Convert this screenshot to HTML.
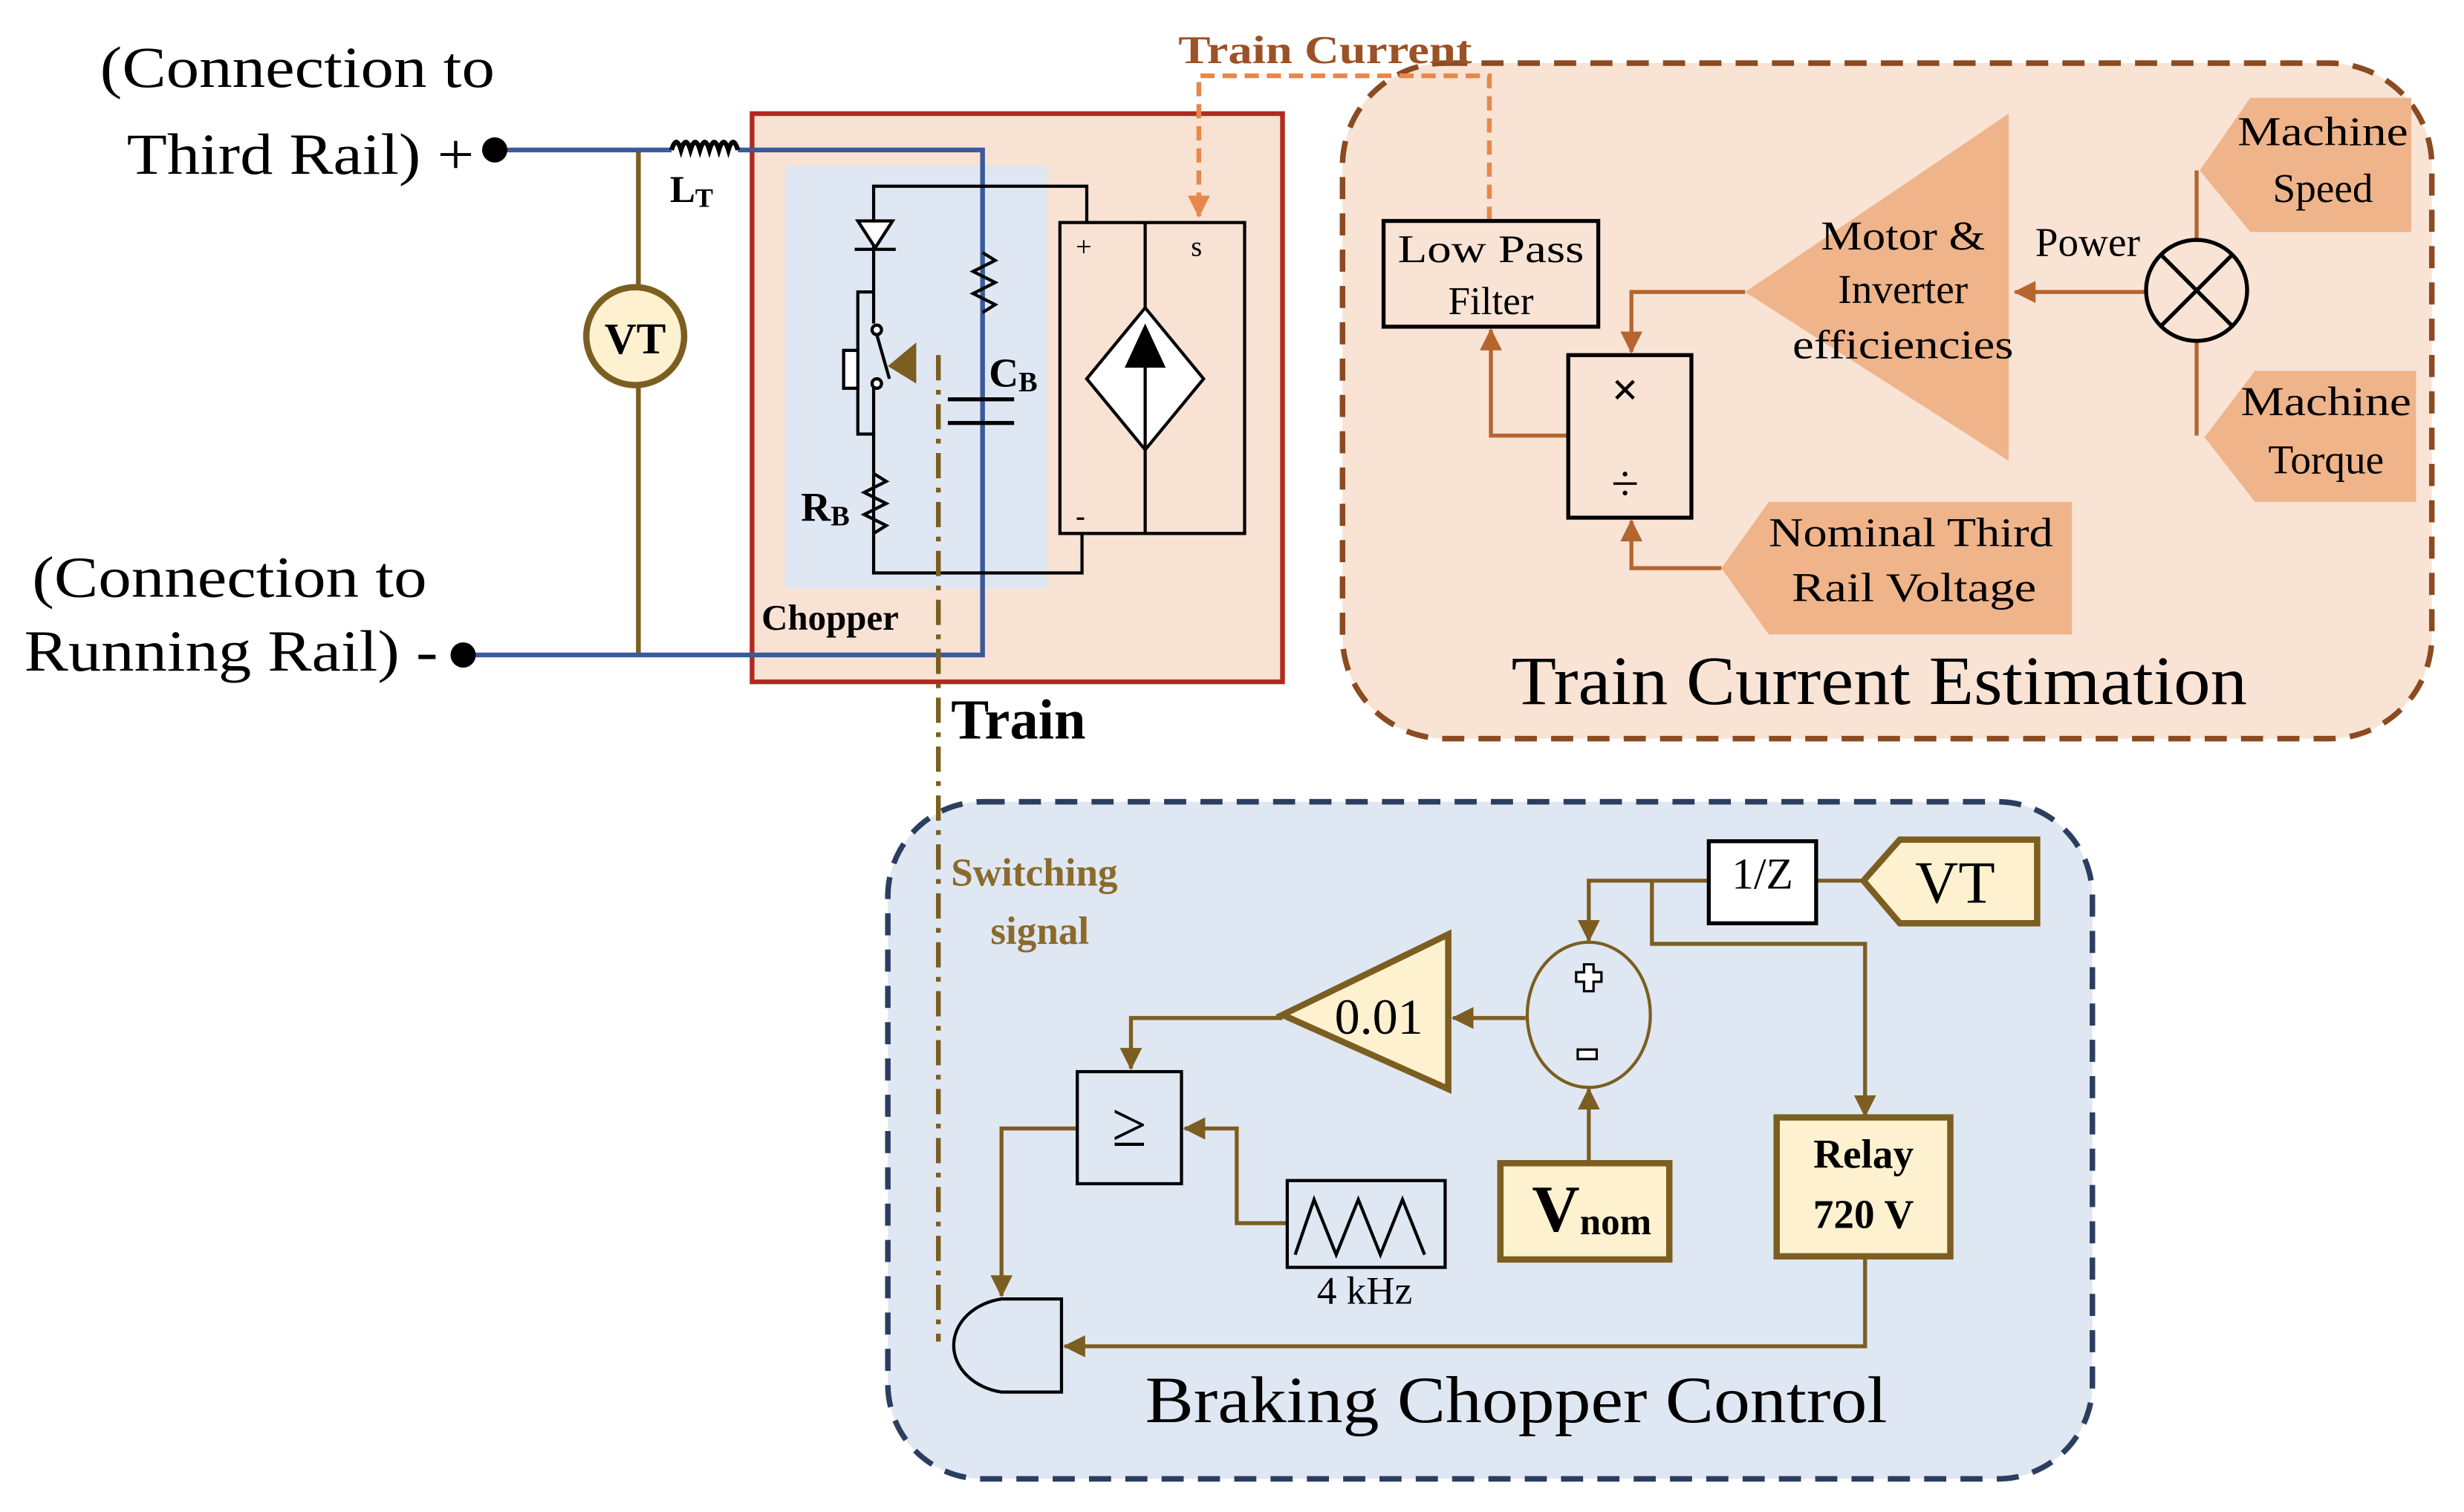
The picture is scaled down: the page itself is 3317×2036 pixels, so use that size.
<!DOCTYPE html>
<html><head><meta charset="utf-8"><style>
html,body{margin:0;padding:0;background:#fff;}
svg{display:block;}
text{font-family:"Liberation Serif",serif;}
</style></head><body>
<svg width="3317" height="2036" viewBox="0 0 1560 958" xmlns="http://www.w3.org/2000/svg">
<defs>
<marker id="at" markerWidth="14" markerHeight="14" refX="13" refY="7" orient="auto" markerUnits="userSpaceOnUse"><path d="M0,0 L14,7 L0,14 Z" fill="#7b5e20"/></marker>
<marker id="ao" markerWidth="14" markerHeight="14" refX="13" refY="7" orient="auto" markerUnits="userSpaceOnUse"><path d="M0,0 L14,7 L0,14 Z" fill="#e8874a"/></marker>
<marker id="abr" markerWidth="14" markerHeight="14" refX="13" refY="7" orient="auto" markerUnits="userSpaceOnUse"><path d="M0,0 L14,7 L0,14 Z" fill="#b5652e"/></marker>
</defs>

<rect x="850" y="40" width="690" height="428" rx="65" fill="#f8e3d5" stroke="#8b4a20" stroke-width="3.5" stroke-dasharray="14,9"/>
<rect x="562" y="508" width="763" height="429" rx="60" fill="#dfe7f3" stroke="#2c3e60" stroke-width="3.5" stroke-dasharray="14,9"/>

<rect x="476" y="72" width="336" height="360" fill="#f8e2d4" stroke="#b02a20" stroke-width="3"/>
<rect x="497" y="105" width="166" height="268" fill="#dfe7f3"/>

<line x1="404" y1="95" x2="404" y2="415" stroke="#7b5e20" stroke-width="3"/>
<circle cx="402" cy="213" r="31" fill="#fdf1cf" stroke="#7b5e20" stroke-width="4"/>
<text x="402" y="224" font-size="28" font-weight="bold" text-anchor="middle">VT</text>

<polyline points="313,95 425,95" fill="none" stroke="#3a5a9a" stroke-width="3"/>
<polyline points="467,95 622,95 622,415 293,415" fill="none" stroke="#3a5a9a" stroke-width="3"/>
<path d="M425,95 q3,-10 6,0 q3,-10 6,0 q3,-10 6,0 q3,-10 6,0 q3,-10 6,0 q3,-10 6,0 q3,-10 6,0" fill="none" stroke="#000" stroke-width="3"/>
<circle cx="313" cy="95" r="8" fill="#000"/>
<circle cx="293" cy="415" r="8" fill="#000"/>
<text x="424" y="128" font-size="24" font-weight="bold">L<tspan font-size="17" dy="3">T</tspan></text>

<g stroke="#000" stroke-width="2" fill="none">
<polyline points="553,185 553,118 688,118 688,141"/>
<polyline points="553,300 553,363 685,363 685,338"/>
<polyline points="553,185 543,185 543,275 553,275 553,300"/>
<line x1="553" y1="185" x2="553" y2="205"/>
<line x1="553" y1="245" x2="553" y2="275"/>
<circle cx="555" cy="209" r="3" fill="#fff"/>
<circle cx="555" cy="243" r="3" fill="#fff"/>
<line x1="555" y1="212" x2="563" y2="240"/>
<rect x="534" y="222" width="9" height="24" fill="#fff"/>
<path d="M553,300 l8,5 l-14,7 l14,7 l-14,7 l14,7 l-8,5"/>
<path d="M622,160 l8,5 l-14,7 l14,7 l-14,7 l14,7 l-8,5"/>
<line x1="600" y1="253" x2="642" y2="253" stroke-width="2.5"/>
<line x1="600" y1="268" x2="642" y2="268" stroke-width="2.5"/>
<rect x="671" y="141" width="117" height="197"/>
<line x1="725" y1="141" x2="725" y2="338"/>
<polygon points="725,195 762,240 725,285 688,240" fill="#fff"/>
<line x1="725" y1="225" x2="725" y2="285"/>
</g>
<polygon points="543,140 565,140 554,157" fill="#fff" stroke="#000" stroke-width="2"/>
<line x1="541" y1="158" x2="567" y2="158" stroke="#000" stroke-width="2"/>
<polygon points="725,205 738,233 712,233" fill="#000"/>
<polygon points="580,217 580,243 562,232" fill="#7b5e20"/>
<text x="681" y="162" font-size="18">+</text>
<text x="754" y="162" font-size="18">s</text>
<text x="681" y="333" font-size="18" font-weight="bold">-</text>
<text x="626" y="245" font-size="26" font-weight="bold">C<tspan font-size="18" dy="3">B</tspan></text>
<text x="507" y="330" font-size="26" font-weight="bold">R<tspan font-size="18" dy="3">B</tspan></text>
<text x="482" y="399" font-size="23" font-weight="bold">Chopper</text>

<line x1="594" y1="225" x2="594" y2="850" stroke="#7b5e20" stroke-width="3" stroke-dasharray="16,6,3,6"/>
<text x="602" y="468" font-size="36" font-weight="bold">Train</text>

<text x="63" y="55" font-size="37" textLength="250" lengthAdjust="spacingAndGlyphs">(Connection to</text>
<text x="80" y="110" font-size="37" textLength="220" lengthAdjust="spacingAndGlyphs">Third Rail) +</text>
<text x="20" y="378" font-size="37" textLength="250" lengthAdjust="spacingAndGlyphs">(Connection to</text>
<text x="15" y="425" font-size="37" textLength="262" lengthAdjust="spacingAndGlyphs">Running Rail) -</text>

<polyline points="943,140 943,48 759,48 759,137" fill="none" stroke="#e8874a" stroke-width="3" stroke-dasharray="9,5" marker-end="url(#ao)"/>
<text x="746" y="40" font-size="25" font-weight="bold" fill="#9b5226" textLength="186" lengthAdjust="spacingAndGlyphs">Train Current</text>

<polygon points="1272,72 1272,292 1105,185" fill="#efb48a"/>
<polygon points="1425,62 1527,62 1527,147 1425,147 1393,108" fill="#efb48a"/>
<polygon points="1428,235 1530,235 1530,318 1428,318 1396,277" fill="#efb48a"/>
<polygon points="1120,318 1312,318 1312,402 1120,402 1090,360" fill="#efb48a"/>
<g stroke="#b5652e" stroke-width="2.5" fill="none">
<line x1="1391" y1="108" x2="1391" y2="152"/>
<line x1="1391" y1="216" x2="1391" y2="276"/>
<line x1="1359" y1="185" x2="1276" y2="185" marker-end="url(#abr)"/>
<polyline points="1105,185 1033,185 1033,223" marker-end="url(#abr)"/>
<polyline points="993,276 944,276 944,209" marker-end="url(#abr)"/>
<polyline points="1090,360 1033,360 1033,330" marker-end="url(#abr)"/>
</g>
<circle cx="1391" cy="184" r="32" fill="none" stroke="#000" stroke-width="2.5"/>
<line x1="1368" y1="161" x2="1414" y2="207" stroke="#000" stroke-width="2.5"/>
<line x1="1414" y1="161" x2="1368" y2="207" stroke="#000" stroke-width="2.5"/>
<rect x="876" y="140" width="136" height="67" fill="none" stroke="#000" stroke-width="2.5"/>
<text x="944" y="166" font-size="25" text-anchor="middle" textLength="118" lengthAdjust="spacingAndGlyphs">Low Pass</text>
<text x="944" y="199" font-size="25" text-anchor="middle">Filter</text>
<rect x="993" y="225" width="78" height="103" fill="none" stroke="#000" stroke-width="2.5"/>
<text x="1029" y="257" font-size="30" font-weight="bold" text-anchor="middle" font-family="Liberation Sans,sans-serif">×</text>
<text x="1029" y="317" font-size="32" text-anchor="middle">÷</text>
<text x="1205" y="158" font-size="26" text-anchor="middle" textLength="104" lengthAdjust="spacingAndGlyphs">Motor &amp;</text>
<text x="1205" y="192" font-size="26" text-anchor="middle">Inverter</text>
<text x="1205" y="227" font-size="26" text-anchor="middle" textLength="140" lengthAdjust="spacingAndGlyphs">efficiencies</text>
<text x="1322" y="162" font-size="26" text-anchor="middle">Power</text>
<text x="1471" y="92" font-size="26" text-anchor="middle" textLength="108" lengthAdjust="spacingAndGlyphs">Machine</text>
<text x="1471" y="128" font-size="26" text-anchor="middle">Speed</text>
<text x="1473" y="263" font-size="26" text-anchor="middle" textLength="108" lengthAdjust="spacingAndGlyphs">Machine</text>
<text x="1473" y="300" font-size="26" text-anchor="middle">Torque</text>
<text x="1210" y="346" font-size="26" text-anchor="middle" textLength="180" lengthAdjust="spacingAndGlyphs">Nominal Third</text>
<text x="1212" y="381" font-size="26" text-anchor="middle" textLength="155" lengthAdjust="spacingAndGlyphs">Rail Voltage</text>
<text x="1190" y="446" font-size="44" text-anchor="middle" textLength="466" lengthAdjust="spacingAndGlyphs">Train Current Estimation</text>

<text x="602" y="561" font-size="25" font-weight="bold" fill="#8b6a2a">Switching</text>
<text x="627" y="598" font-size="25" font-weight="bold" fill="#8b6a2a">signal</text>
<g stroke="#7b5e20" stroke-width="2.5" fill="none">
<line x1="1180" y1="558" x2="1150" y2="558"/>
<polyline points="1082,558 1006,558 1006,596" marker-end="url(#at)"/>
<polyline points="1046,558 1046,598 1181,598 1181,707" marker-end="url(#at)"/>
<line x1="966" y1="645" x2="920" y2="645" marker-end="url(#at)"/>
<polyline points="812,645 716,645 716,677" marker-end="url(#at)"/>
<line x1="1006" y1="737" x2="1006" y2="690" marker-end="url(#at)"/>
<polyline points="815,775 783,775 783,715 750,715" marker-end="url(#at)"/>
<polyline points="682,715 634,715 634,821" marker-end="url(#at)"/>
<polyline points="1181,796 1181,853 674,853" marker-end="url(#at)"/>
</g>
<rect x="1082" y="533" width="68" height="52" fill="#fff" stroke="#000" stroke-width="2.5"/>
<text x="1116" y="563" font-size="28" text-anchor="middle">1/Z</text>
<polygon points="1203,532 1290,532 1290,585 1203,585 1180,558" fill="#fdf1cf" stroke="#7b5e20" stroke-width="4"/>
<text x="1238" y="572" font-size="38" text-anchor="middle">VT</text>
<ellipse cx="1006" cy="643" rx="39" ry="46" fill="none" stroke="#7b5e20" stroke-width="2"/>
<path d="M1003,611 h6 v5 h5 v6 h-5 v6 h-6 v-6 h-5 v-6 h5 z" fill="#fff" stroke="#000" stroke-width="1.5"/>
<rect x="999" y="665" width="12" height="6" fill="#fff" stroke="#000" stroke-width="1.5"/>
<polygon points="917,592 917,690 812,643" fill="#fdf1cf" stroke="#7b5e20" stroke-width="4"/>
<text x="873" y="655" font-size="32" text-anchor="middle">0.01</text>
<rect x="682" y="679" width="66" height="71" fill="none" stroke="#000" stroke-width="2"/>
<text x="715" y="726" font-size="40" text-anchor="middle">≥</text>
<rect x="815" y="748" width="100" height="55" fill="none" stroke="#000" stroke-width="2"/>
<polyline points="820,795 832,760 846,795 860,760 874,795 888,760 902,795" fill="none" stroke="#000" stroke-width="2"/>
<text x="864" y="826" font-size="25" text-anchor="middle">4 kHz</text>
<rect x="950" y="737" width="107" height="61" fill="#fdf1cf" stroke="#7b5e20" stroke-width="4"/>
<text x="970" y="780" font-size="42" font-weight="bold">V<tspan font-size="24" dy="2">nom</tspan></text>
<rect x="1125" y="708" width="110" height="88" fill="#fdf1cf" stroke="#7b5e20" stroke-width="4"/>
<text x="1180" y="740" font-size="26" font-weight="bold" text-anchor="middle">Relay</text>
<text x="1180" y="778" font-size="26" font-weight="bold" text-anchor="middle">720 V</text>
<path d="M672,823 L634,823 A37,30 0 0 0 634,882 L672,882 Z" fill="none" stroke="#000" stroke-width="2"/>
<text x="960" y="901" font-size="42" text-anchor="middle" textLength="470" lengthAdjust="spacingAndGlyphs">Braking Chopper Control</text>
</svg>
</body></html>
